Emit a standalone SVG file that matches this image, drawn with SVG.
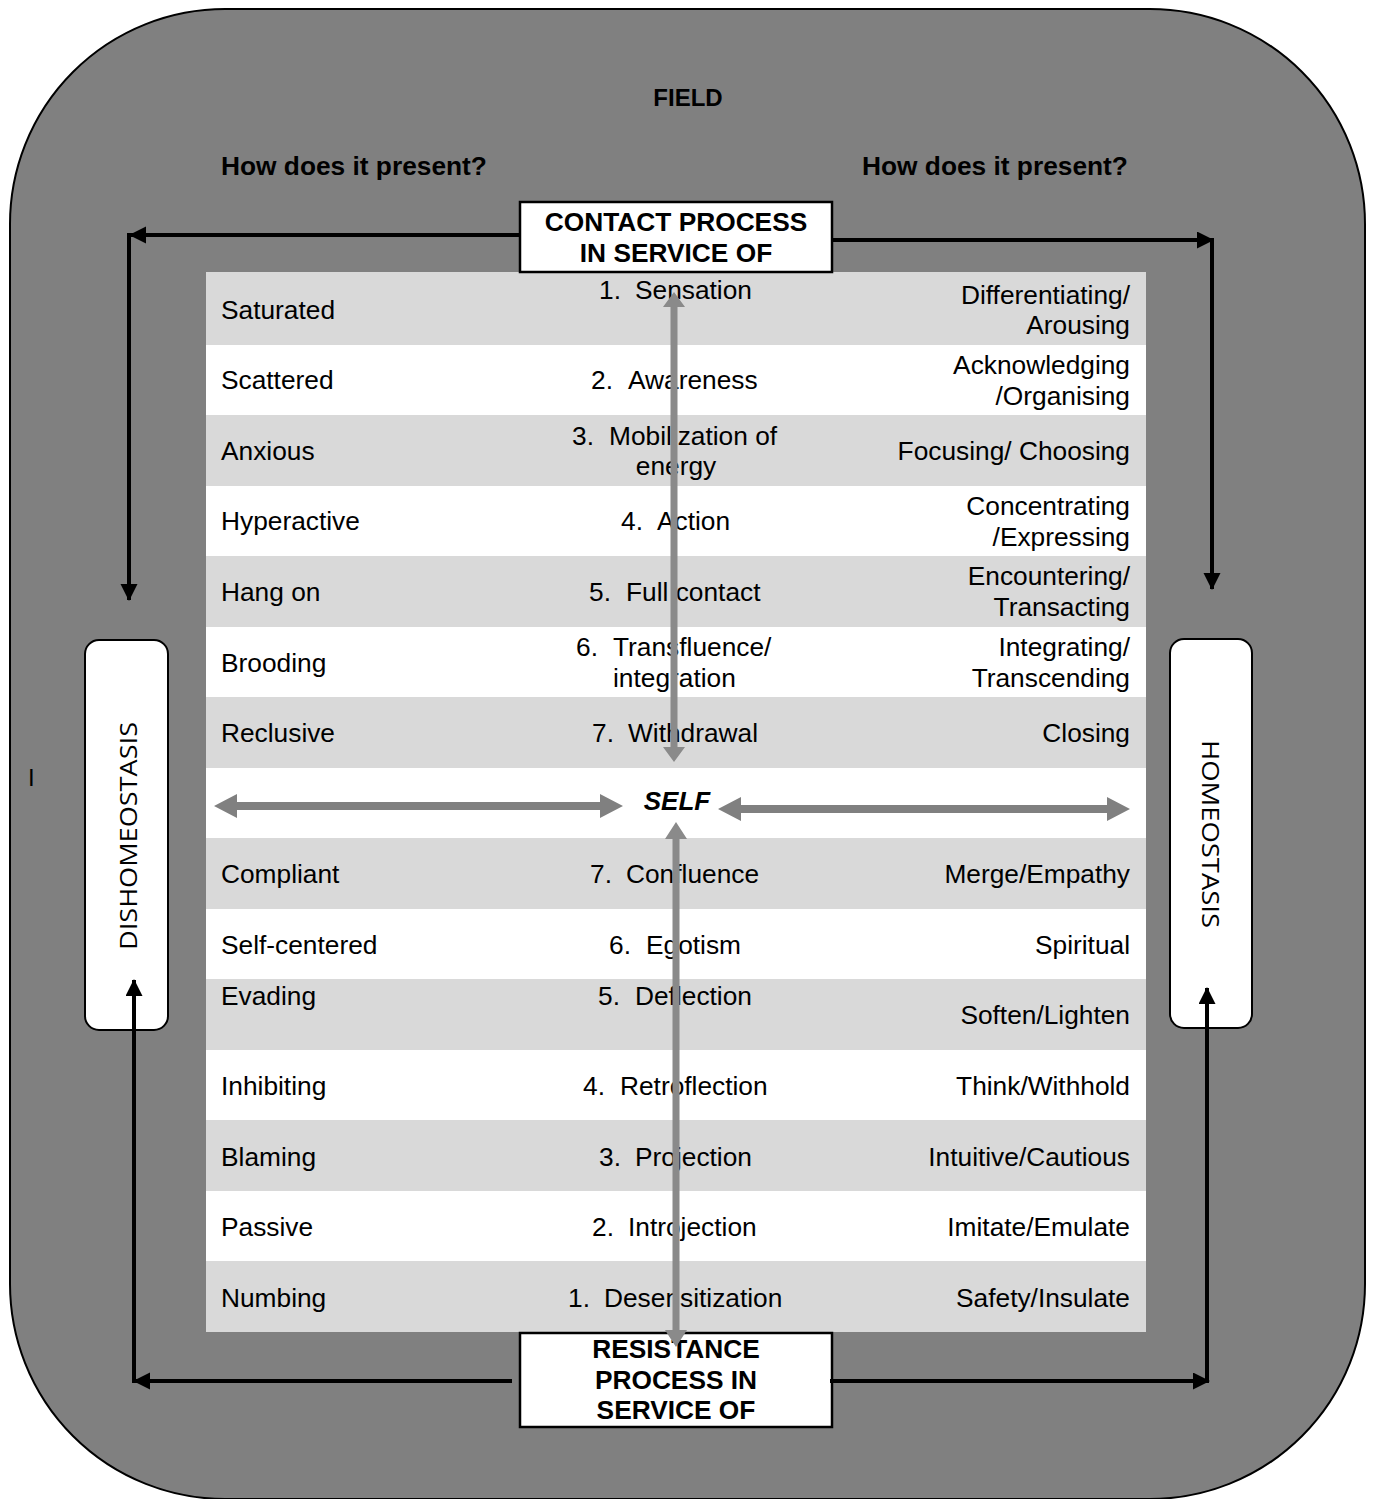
<svg xmlns="http://www.w3.org/2000/svg" width="1375" height="1499" viewBox="0 0 1375 1499">
<defs>
<style>
.t{font-family:"Liberation Sans",Arial,sans-serif;font-size:26.3px;fill:#000}
.m{text-anchor:middle}
.e{text-anchor:end}
.b{font-weight:bold}
.g{fill:#d9d9d9}
.w{fill:#fff}
.side{font-family:"Open Sans","Noto Sans",sans-serif;font-size:23px;fill:#000;text-anchor:middle}
.conn{stroke:#000;stroke-width:4;fill:none}
.garr{fill:#808080}
.varr{fill:#8a8a8a}
</style>
<marker id="ah" markerUnits="userSpaceOnUse" markerWidth="18" markerHeight="18" refX="16" refY="8.5" orient="auto">
<path d="M0,0 L17,8.5 L0,17 z" fill="#000"/>
</marker>
</defs>

<g id="field">
<rect x="10" y="9" width="1355" height="1490" rx="215" ry="215" fill="#808080" stroke="#000" stroke-width="2"/>
<text class="t b m" x="688" y="106" style="font-size:24px">FIELD</text>
<text class="t b" x="221" y="175">How does it present?</text>
<text class="t b" x="862" y="175">How does it present?</text>
<text class="t" x="28" y="786" style="font-size:24px">I</text>
</g>

<g id="table">
<rect class="g" x="206" y="272" width="940" height="73"/>
<rect class="w" x="206" y="345" width="940" height="70"/>
<rect class="g" x="206" y="415" width="940" height="71"/>
<rect class="w" x="206" y="486" width="940" height="70"/>
<rect class="g" x="206" y="556" width="940" height="71"/>
<rect class="w" x="206" y="627" width="940" height="70"/>
<rect class="g" x="206" y="697" width="940" height="71"/>
<rect class="w" x="206" y="768" width="940" height="70"/>
<rect class="g" x="206" y="838" width="940" height="71"/>
<rect class="w" x="206" y="909" width="940" height="70"/>
<rect class="g" x="206" y="979" width="940" height="71"/>
<rect class="w" x="206" y="1050" width="940" height="70"/>
<rect class="g" x="206" y="1120" width="940" height="71"/>
<rect class="w" x="206" y="1191" width="940" height="70"/>
<rect class="g" x="206" y="1261" width="940" height="71"/>
</g>

<g id="row1">
<text class="t" x="221" y="319">Saturated</text>
<text class="t" y="299"><tspan x="599">1.</tspan><tspan x="635">Sensation</tspan></text>
<text class="t e" x="1130" y="304">Differentiating/</text>
<text class="t e" x="1130" y="334">Arousing</text>
</g>
<g id="row2">
<text class="t" x="221" y="389">Scattered</text>
<text class="t" y="389"><tspan x="591">2.</tspan><tspan x="628">Awareness</tspan></text>
<text class="t e" x="1130" y="374">Acknowledging</text>
<text class="t e" x="1130" y="405">/Organising</text>
</g>
<g id="row3">
<text class="t" x="221" y="460">Anxious</text>
<text class="t" y="445"><tspan x="572">3.</tspan><tspan x="609">Mobilization of</tspan></text>
<text class="t m" x="676" y="475">energy</text>
<text class="t e" x="1130" y="460">Focusing/ Choosing</text>
</g>
<g id="row4">
<text class="t" x="221" y="530">Hyperactive</text>
<text class="t" y="530"><tspan x="621">4.</tspan><tspan x="657">Action</tspan></text>
<text class="t e" x="1130" y="515">Concentrating</text>
<text class="t e" x="1130" y="546">/Expressing</text>
</g>
<g id="row5">
<text class="t" x="221" y="601">Hang on</text>
<text class="t" y="601"><tspan x="589">5.</tspan><tspan x="626">Full contact</tspan></text>
<text class="t e" x="1130" y="585">Encountering/</text>
<text class="t e" x="1130" y="616">Transacting</text>
</g>
<g id="row6">
<text class="t" x="221" y="672">Brooding</text>
<text class="t" y="656"><tspan x="576">6.</tspan><tspan x="613">Transfluence/</tspan></text>
<text class="t" x="613" y="687">integration</text>
<text class="t e" x="1130" y="656">Integrating/</text>
<text class="t e" x="1130" y="687">Transcending</text>
</g>
<g id="row7">
<text class="t" x="221" y="742">Reclusive</text>
<text class="t" y="742"><tspan x="592">7.</tspan><tspan x="628">Withdrawal</tspan></text>
<text class="t e" x="1130" y="742">Closing</text>
</g>
<g id="self">
<text class="t b m" x="677" y="810" style="font-style:italic;font-size:26px">SELF</text>
</g>
<g id="row8">
<text class="t" x="221" y="883">Compliant</text>
<text class="t" y="883"><tspan x="590">7.</tspan><tspan x="626">Confluence</tspan></text>
<text class="t e" x="1130" y="883">Merge/Empathy</text>
</g>
<g id="row9">
<text class="t" x="221" y="954">Self-centered</text>
<text class="t" y="954"><tspan x="609">6.</tspan><tspan x="646">Egotism</tspan></text>
<text class="t e" x="1130" y="954">Spiritual</text>
</g>
<g id="row10">
<text class="t" x="221" y="1005">Evading</text>
<text class="t" y="1005"><tspan x="598">5.</tspan><tspan x="635">Deflection</tspan></text>
<text class="t e" x="1130" y="1024">Soften/Lighten</text>
</g>
<g id="row11">
<text class="t" x="221" y="1095">Inhibiting</text>
<text class="t" y="1095"><tspan x="583">4.</tspan><tspan x="620">Retroflection</tspan></text>
<text class="t e" x="1130" y="1095">Think/Withhold</text>
</g>
<g id="row12">
<text class="t" x="221" y="1166">Blaming</text>
<text class="t" y="1166"><tspan x="599">3.</tspan><tspan x="635">Projection</tspan></text>
<text class="t e" x="1130" y="1166">Intuitive/Cautious</text>
</g>
<g id="row13">
<text class="t" x="221" y="1236">Passive</text>
<text class="t" y="1236"><tspan x="592">2.</tspan><tspan x="628">Introjection</tspan></text>
<text class="t e" x="1130" y="1236">Imitate/Emulate</text>
</g>
<g id="row14">
<text class="t" x="221" y="1307">Numbing</text>
<text class="t" y="1307"><tspan x="568">1.</tspan><tspan x="604">Desensitization</tspan></text>
<text class="t e" x="1130" y="1307">Safety/Insulate</text>
</g>

<g id="contact">
<rect x="520" y="202" width="312" height="70" fill="#fff" stroke="#000" stroke-width="2.5"/>
<text class="t b m" x="676" y="231">CONTACT PROCESS</text>
<text class="t b m" x="676" y="262">IN SERVICE OF</text>
</g>
<g id="resistance">
<rect x="520" y="1333" width="312" height="94" fill="#fff" stroke="#000" stroke-width="2.5"/>
<text class="t b m" x="676" y="1358">RESISTANCE</text>
<text class="t b m" x="676" y="1389">PROCESS IN</text>
<text class="t b m" x="676" y="1419">SERVICE OF</text>
</g>
<g id="dishomeostasis">
<rect x="85" y="640" width="83" height="390" rx="14" ry="14" fill="#fff" stroke="#000" stroke-width="2"/>
<text class="side" transform="translate(137,836) rotate(-90)" textLength="228" lengthAdjust="spacingAndGlyphs">DISHOMEOSTASIS</text>
</g>
<g id="homeostasis">
<rect x="1170" y="639" width="82" height="389" rx="14" ry="14" fill="#fff" stroke="#000" stroke-width="2"/>
<text class="side" transform="translate(1202,834) rotate(90)" textLength="188" lengthAdjust="spacingAndGlyphs">HOMEOSTASIS</text>
</g>

<g id="connectors">
<line class="conn" x1="519" y1="235" x2="130" y2="235" marker-end="url(#ah)"/>
<line class="conn" x1="129" y1="233" x2="129" y2="600" marker-end="url(#ah)"/>
<line class="conn" x1="833" y1="240" x2="1213" y2="240" marker-end="url(#ah)"/>
<line class="conn" x1="1212" y1="238" x2="1212" y2="589" marker-end="url(#ah)"/>
<line class="conn" x1="512" y1="1381" x2="134" y2="1381" marker-end="url(#ah)"/>
<line class="conn" x1="134" y1="1383" x2="134" y2="980" marker-end="url(#ah)"/>
<line class="conn" x1="830" y1="1381" x2="1209" y2="1381" marker-end="url(#ah)"/>
<line class="conn" x1="1207" y1="1383" x2="1207" y2="988" marker-end="url(#ah)"/>
<polygon class="varr" points="674,292 685,307 677.5,307 677.5,747 685,747 674,762 663,747 670.5,747 670.5,307 663,307"/>
<polygon class="varr" points="676,822 687,839 679.5,839 679.5,1330 687,1330 676,1347 665,1330 672.5,1330 672.5,839 665,839"/>
<polygon class="garr" points="214,806 237,794 237,802 600,802 600,794 623,806 600,818 600,810 237,810 237,818"/>
<polygon class="garr" points="718,809 741,797 741,805 1107,805 1107,797 1130,809 1107,821 1107,813 741,813 741,821"/>
</g>
</svg>
